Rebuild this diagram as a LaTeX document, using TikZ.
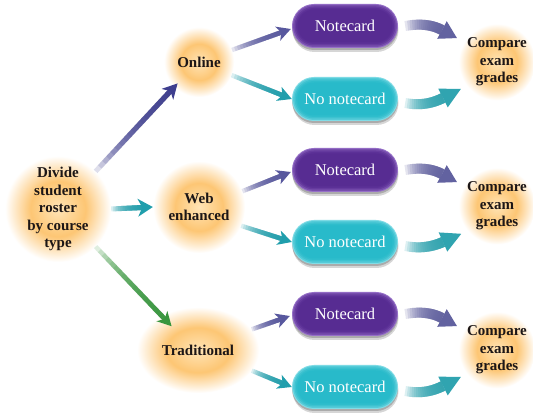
\documentclass[tikz,border=0pt]{standalone}
\usepackage{fontspec}
\setmainfont{Liberation Serif}
\usetikzlibrary{calc,shapes.geometric,shadows}

% colours
\definecolor{ink}{RGB}{28,22,22}
\definecolor{glowA}{RGB}{255,228,182}
\definecolor{glowB}{RGB}{253,198,116}
\definecolor{cardPurple}{RGB}{82,38,142}
\definecolor{cardPurpleRim}{RGB}{150,112,200}
\definecolor{cardTeal}{RGB}{32,184,200}
\definecolor{cardTealRim}{RGB}{130,220,230}
\definecolor{arNavy}{RGB}{62,62,142}
\definecolor{arSlate}{RGB}{88,88,158}
\definecolor{arTeal}{RGB}{32,158,172}
\definecolor{arGreen}{RGB}{56,150,62}
\definecolor{arCurvePurple}{RGB}{98,98,160}
\definecolor{arCurveTeal}{RGB}{48,164,176}

% soft orange halo behind the step labels
\pgfdeclareradialshading{glow}{\pgfpointorigin}{%
  color(0bp)=(glowA); color(13bp)=(glowB); color(25bp)=(white); color(50bp)=(white)}

\tikzset{
  halo/.style={shade, shading=glow, inner sep=0pt, align=center, text=ink,
    font=\bfseries\fontsize{15}{17.5}\selectfont},
  pill/.style n args={2}{rectangle, rounded corners=22pt, minimum width=106pt,
    minimum height=44pt, inner sep=0pt, text=white,
    font=\fontsize{16.5}{19}\selectfont, fill=#1,
    drop shadow={shadow xshift=0.5pt, shadow yshift=-4pt, opacity=.16, fill=black},
    drop shadow={shadow xshift=0pt, shadow yshift=-2pt, opacity=.2, fill=black},
    path picture={\foreach \d in {1,2.5,4,5.5}{%
      \pgfmathsetmacro\rr{22-\d}%
      \fill[#2, opacity=.45, rounded corners=\rr pt]
        ($(path picture bounding box.south west)+(\d pt,\d pt)$) rectangle
        ($(path picture bounding box.north east)-(\d pt,\d pt)$);}}},
}

% straight arrow whose shaft fades in: start, tip, colour, shaft width,
% head length, head half-width, notch depth
\newcommand\fadeline[7]{%
  \coordinate (fa) at (#1);
  \coordinate (ft) at (#2);
  \coordinate (fb) at ($(ft)!#5!(fa)$);
  \coordinate (fn) at ($(fb)!#7!(ft)$);
  \foreach \i in {0,...,17}{%
    \draw[#3, line width=#4, opacity=.16] ($(fa)!\i/18!(fn)$) -- ($(fn)!-0.5pt!(fa)$);
  }
  \fill[#3] (ft) -- ($(fb)!#6!90:(ft)$) -- (fn) -- ($(fb)!#6!-90:(ft)$) -- cycle;
}

% curved arrow whose shaft fades in: start, bend control, head base, colour,
% shaft width, head length, head half-width
\newcommand\fadecurve[7]{%
  \coordinate (q0) at (#1);
  \coordinate (q1) at (#2);
  \coordinate (q2) at (#3);
  \foreach \i in {0,...,17}{%
    \pgfmathsetmacro\tpos{\i/18}%
    \coordinate (m1) at ($(q0)!\tpos!(q1)$);
    \coordinate (m2) at ($(q1)!\tpos!(q2)$);
    \coordinate (ms) at ($(m1)!\tpos!(m2)$);
    \draw[#4, line width=#5, opacity=.16] (ms) .. controls ($(ms)!2/3!(m2)$) and ($(q2)!2/3!(m2)$) .. (q2);
  }
  \fill[#4] ($(q2)!-#6!(q1)$) -- ($(q2)!#7!90:(q1)$) -- ($(q2)!#7!-90:(q1)$) -- cycle;
}

\begin{document}
\begin{tikzpicture}[x=1pt, y=-1pt]
\fill[white] (0,0) rectangle (533,419);
\useasboundingbox (0,0) rectangle (533,419);

% step labels
\node[halo, circle, minimum size=106pt] (div) at (58,209) {Divide\\student\\roster\\by course\\type};
\node[halo, circle, minimum size=70pt] (online) at (199,62) {Online};
\node[halo, circle, minimum size=92pt] (web) at (199,207) {Web\\enhanced};
\node[halo, ellipse, minimum width=122pt, minimum height=86pt] (trad) at (198,350) {Traditional};

% study groups
\node[pill={cardPurpleRim}{cardPurple}] (n1)  at (345,26)  {Notecard};
\node[pill={cardTealRim}{cardTeal}]     (nn1) at (345,99)  {No notecard};
\node[pill={cardPurpleRim}{cardPurple}] (n2)  at (345,170) {Notecard};
\node[pill={cardTealRim}{cardTeal}]     (nn2) at (345,242) {No notecard};
\node[pill={cardPurpleRim}{cardPurple}] (n3)  at (345,314) {Notecard};
\node[pill={cardTealRim}{cardTeal}]     (nn3) at (345,387) {No notecard};

% outcomes
\node[halo, circle, minimum size=74pt] (c1) at (497,62)  {Compare\\exam\\grades};
\node[halo, circle, minimum size=74pt] (c2) at (497,206) {Compare\\exam\\grades};
\node[halo, circle, minimum size=74pt] (c3) at (497,350) {Compare\\exam\\grades};

% split by course type
\fadeline{div.45}{$(online.center)!0.86!(online.225)$}{arNavy}{5pt}{15pt}{8pt}{4.5pt}
\fadeline{div.east}{web.west}{arTeal}{5pt}{15pt}{9pt}{4.5pt}
\fadeline{div.-45}{$(trad.center)!0.7!(trad.138)$}{arGreen}{4.5pt}{14pt}{7.5pt}{4pt}

% split each course into groups
\fadeline{online.20}{$(n1.west)+(-1,3)$}{arSlate}{4.5pt}{14pt}{7.5pt}{4pt}
\fadeline{online.-22}{nn1.west}{arTeal}{4.5pt}{14pt}{7.5pt}{4pt}
\fadeline{web.20}{$(n2.west)+(-1,2)$}{arSlate}{4.5pt}{14pt}{7.5pt}{4pt}
\fadeline{web.-24}{nn2.west}{arTeal}{4.5pt}{14pt}{7.5pt}{4pt}
\fadeline{trad.21}{$(n3.west)+(-2,2)$}{arSlate}{4.5pt}{14pt}{7.5pt}{4pt}
\fadeline{trad.-21}{nn3.west}{arTeal}{4.5pt}{14pt}{7.5pt}{4pt}

% groups feed the grade comparison
\fadecurve{$(n1.east)+(7,0)$}{$(n1.east)+(29,-4)$}{$(c1.center)+(-55,-32)$}{arCurvePurple}{10pt}{17pt}{10pt}
\fadecurve{$(nn1.east)+(7,4)$}{$(nn1.east)+(27,8)$}{$(c1.center)+(-54,36)$}{arCurveTeal}{10pt}{20pt}{10.5pt}
\fadecurve{$(n2.east)+(7,0)$}{$(n2.east)+(29,-4)$}{$(c2.center)+(-55,-32)$}{arCurvePurple}{10pt}{17pt}{10pt}
\fadecurve{$(nn2.east)+(7,4)$}{$(nn2.east)+(27,8)$}{$(c2.center)+(-54,36)$}{arCurveTeal}{10pt}{20pt}{10.5pt}
\fadecurve{$(n3.east)+(7,0)$}{$(n3.east)+(29,-4)$}{$(c3.center)+(-55,-32)$}{arCurvePurple}{10pt}{17pt}{10pt}
\fadecurve{$(nn3.east)+(7,4)$}{$(nn3.east)+(27,8)$}{$(c3.center)+(-54,36)$}{arCurveTeal}{10pt}{20pt}{10.5pt}
\end{tikzpicture}
\end{document}
